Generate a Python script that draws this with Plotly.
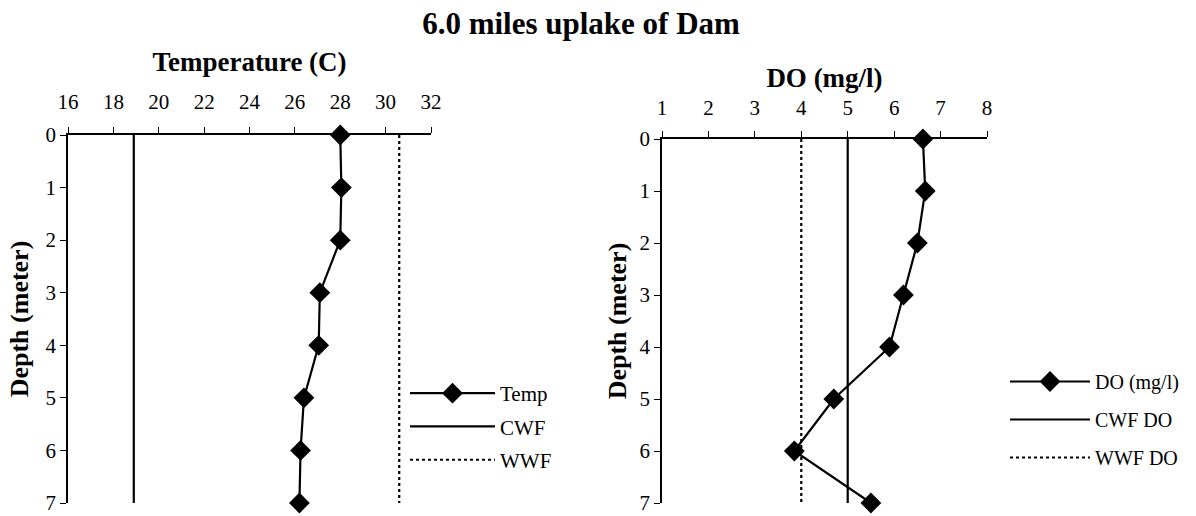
import plotly.graph_objects as go

depth = [0, 1, 2, 3, 4, 5, 6, 7]
temp = [28.0, 28.05, 28.0, 27.1, 27.05, 26.4, 26.25, 26.2]
cwf_temp = [18.9, 18.9, 18.9, 18.9, 18.9, 18.9, 18.9, 18.9]
wwf_temp = [30.6, 30.6, 30.6, 30.6, 30.6, 30.6, 30.6, 30.6]

do_vals = [6.62, 6.67, 6.5, 6.2, 5.9, 4.7, 3.85, 5.5]
cwf_do = [5.0, 5.0, 5.0, 5.0, 5.0, 5.0, 5.0, 5.0]
wwf_do = [4.0, 4.0, 4.0, 4.0, 4.0, 4.0, 4.0, 4.0]

title_text = "6.0 miles uplake of Dam"
FONT = "Liberation Serif"
W, H = 1196, 516

def px_x(v):
    return v / W

def px_y(v):
    return 1 - v / H

fig = go.Figure()

def add_series(x, name, xa, ya, legend, group, dash="solid", marker=False):
    fig.add_trace(go.Scatter(
        x=x, y=depth, name=name, xaxis=xa, yaxis=ya, legend=legend,
        legendgroup=group, mode="lines+markers" if marker else "lines",
        line=dict(color="black", width=2.2, dash=dash),
        marker=dict(symbol="diamond", size=16, color="black"),
        cliponaxis=False,
    ))

add_series(temp, "Temp", "x", "y", "legend", "a", marker=True)
add_series(cwf_temp, "CWF", "x", "y", "legend", "b")
add_series(wwf_temp, "WWF", "x", "y", "legend", "c", dash="dot")

add_series(do_vals, "DO (mg/l)", "x2", "y2", "legend2", "d", marker=True)
add_series(cwf_do, "CWF DO", "x2", "y2", "legend2", "e")
add_series(wwf_do, "WWF DO", "x2", "y2", "legend2", "f", dash="dot")

axis_common = dict(showline=True, linecolor="black", linewidth=1.5, ticks="outside",
                   ticklen=6, tickcolor="black", tickwidth=1.3, showgrid=False,
                   zeroline=False, automargin=False, ticklabeloverflow="allow",
                   tickfont=dict(family=FONT, size=21, color="black"))

title_font = dict(family=FONT, size=27, color="black")
depth_font = dict(family=FONT, size=26, color="black")

fig.update_layout(
    width=W, height=H,
    margin=dict(l=0, r=0, t=0, b=0, autoexpand=False),
    paper_bgcolor="white", plot_bgcolor="white",
    font=dict(family=FONT, color="black"),
    title=dict(text="<b>" + title_text + "</b>", x=px_x(581), xanchor="center", xref="paper",
               y=px_y(23), yanchor="middle", yref="container",
               font=dict(family=FONT, size=31, color="black")),
    xaxis=dict(domain=[px_x(68), px_x(431)], range=[16, 32], dtick=2, side="top", anchor="y",
               title=dict(text="<b>Temperature (C)</b>", font=title_font, standoff=10),
               ticklabelstandoff=10, **axis_common),
    yaxis=dict(domain=[px_y(503), px_y(135)], range=[7, 0], dtick=1, anchor="x",
               title=dict(text="<b>Depth (meter)</b>", font=depth_font, standoff=9),
               **axis_common),
    xaxis2=dict(domain=[px_x(662), px_x(987)], range=[1, 8], dtick=1, side="top", anchor="y2",
                title=dict(text="<b>DO (mg/l)</b>", font=title_font, standoff=0),
                ticklabelstandoff=8, **axis_common),
    yaxis2=dict(domain=[px_y(503), px_y(139)], range=[7, 0], dtick=1, anchor="x2",
                title=dict(text="<b>Depth (meter)</b>", font=depth_font, standoff=5),
                **axis_common),
    legend=dict(x=px_x(405), y=px_y(373), xanchor="left", yanchor="top",
                bgcolor="rgba(0,0,0,0)", tracegroupgap=3, traceorder="grouped",
                font=dict(family=FONT, size=21, color="black"), itemwidth=85),
    legend2=dict(x=px_x(1005), y=px_y(362), xanchor="left", yanchor="top",
                 bgcolor="rgba(0,0,0,0)", tracegroupgap=9, traceorder="grouped",
                 font=dict(family=FONT, size=20, color="black"), itemwidth=80),
    showlegend=True,
)

fig.write_html("out.html", config={"displayModeBar": False},
               post_script="document.body.style.margin='0';")
